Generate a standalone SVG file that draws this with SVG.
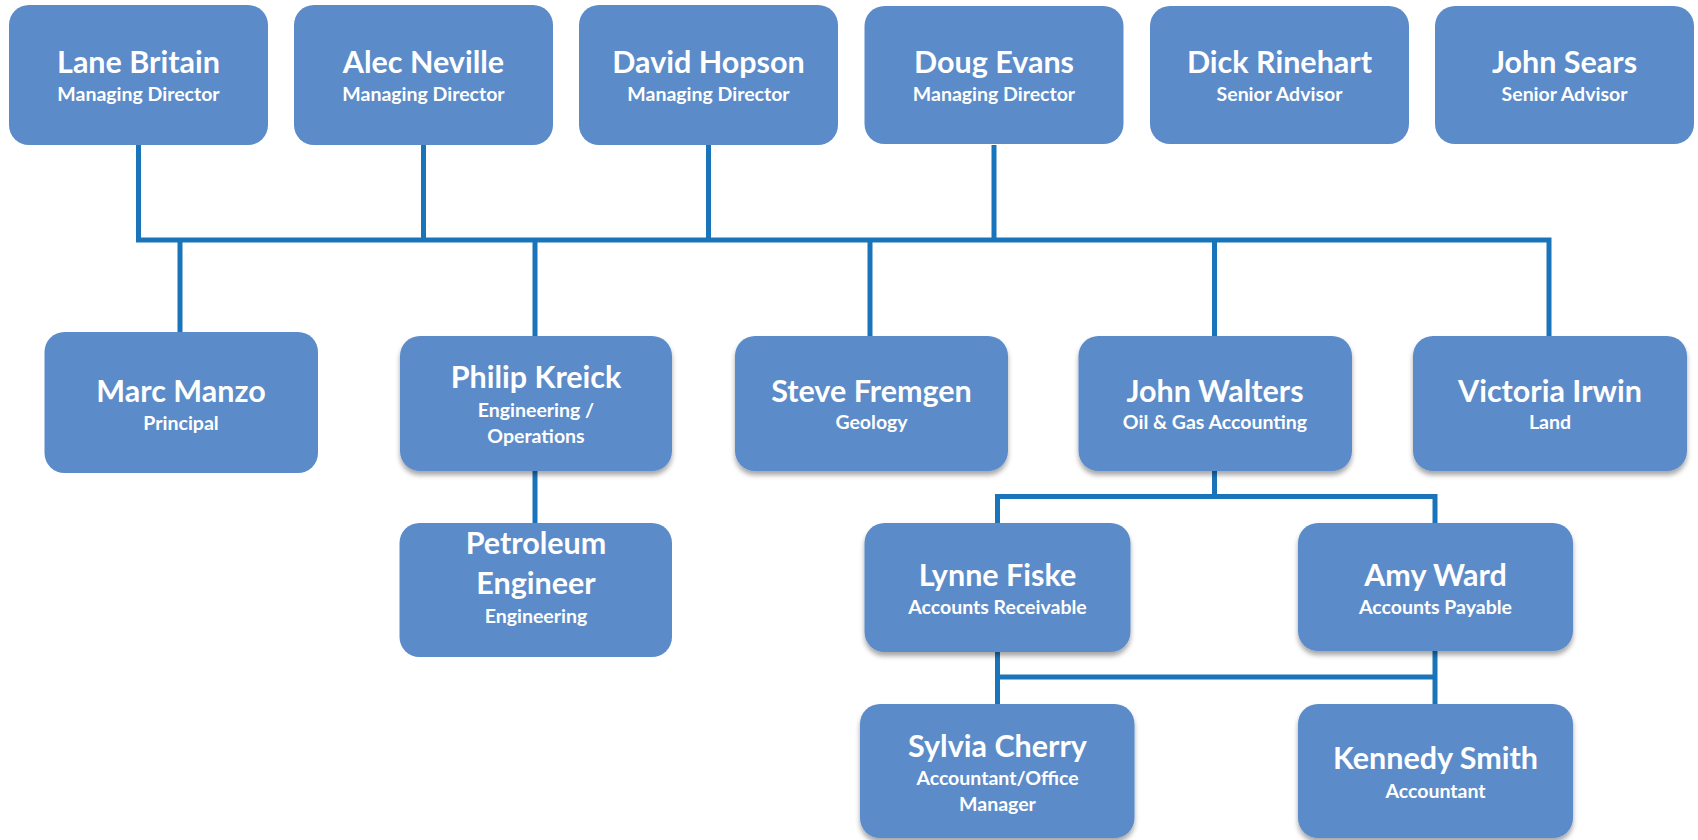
<svg xmlns="http://www.w3.org/2000/svg" width="1698" height="840" viewBox="0 0 1698 840">
<defs>
<filter id="sh" x="-10%" y="-10%" width="120%" height="130%">
<feDropShadow dx="0" dy="4" stdDeviation="2.5" flood-color="#000" flood-opacity="0.35"/>
</filter>
</defs>
<style>
.box{fill:#5B8BC9;}
.nm{font-family:Lato,"Open Sans",sans-serif;font-weight:700;font-size:30.5px;fill:#fff;text-anchor:middle;}
.sb{font-family:Lato,"Open Sans",sans-serif;font-weight:700;font-size:19.5px;fill:#fff;text-anchor:middle;}
.ln{fill:none;stroke:#1A74B9;stroke-width:5;stroke-linejoin:miter;}
</style>
<rect width="1698" height="840" fill="#fff"/>
<g id="connectors">
<path class="ln" d="M138.5,145 V240 H1549 V336"/>
<path class="ln" d="M423.5,145 V240 M708.5,145 V240 M994,145 V240"/>
<path class="ln" d="M180,240 V333 M535,240 V336 M870,240 V336 M1214.5,240 V336"/>
<path class="ln" d="M535,470 V523"/>
<path class="ln" d="M1214.5,470 V496.5 M997.5,523 V496.5 H1435 V523"/>
<path class="ln" d="M997.5,652 V704 M1435,651 V704 M997.5,677 H1435"/>
</g>
<g id="lane-britain"><rect class="box" x="9" y="5" width="259" height="140" rx="20"/><text class="nm" x="138.5" y="73">Lane Britain</text><text class="sb" x="138.5" y="101">Managing Director</text></g>
<g id="alec-neville"><rect class="box" x="294" y="5" width="259" height="140" rx="20"/><text class="nm" x="423.5" y="73">Alec Neville</text><text class="sb" x="423.5" y="101">Managing Director</text></g>
<g id="david-hopson"><rect class="box" x="579" y="5" width="259" height="140" rx="20"/><text class="nm" x="708.5" y="73">David Hopson</text><text class="sb" x="708.5" y="101">Managing Director</text></g>
<g id="doug-evans"><rect class="box" x="864.5" y="6" width="259" height="138" rx="20"/><text class="nm" x="994" y="73">Doug Evans</text><text class="sb" x="994" y="101">Managing Director</text></g>
<g id="dick-rinehart"><rect class="box" x="1150" y="6" width="259" height="138" rx="20"/><text class="nm" x="1279.5" y="73">Dick Rinehart</text><text class="sb" x="1279.5" y="101">Senior Advisor</text></g>
<g id="john-sears"><rect class="box" x="1435" y="6" width="259" height="138" rx="20"/><text class="nm" x="1564.5" y="73">John Sears</text><text class="sb" x="1564.5" y="101">Senior Advisor</text></g>
<g id="marc-manzo"><rect class="box" x="44.5" y="332" width="273.5" height="141" rx="20"/><text class="nm" x="181" y="401.5">Marc Manzo</text><text class="sb" x="181" y="430">Principal</text></g>
<g id="philip-kreick"><rect class="box" x="400" y="336" width="272" height="135" rx="20" filter="url(#sh)"/><text class="nm" x="536" y="388">Philip Kreick</text><text class="sb" x="536" y="417">Engineering /</text><text class="sb" x="536" y="443">Operations</text></g>
<g id="steve-fremgen"><rect class="box" x="735" y="336" width="273" height="135" rx="20" filter="url(#sh)"/><text class="nm" x="871.5" y="401.5">Steve Fremgen</text><text class="sb" x="871.5" y="429">Geology</text></g>
<g id="john-walters"><rect class="box" x="1078.5" y="336" width="273.5" height="135" rx="20" filter="url(#sh)"/><text class="nm" x="1215" y="401.5">John Walters</text><text class="sb" x="1215" y="429">Oil &amp; Gas Accounting</text></g>
<g id="victoria-irwin"><rect class="box" x="1413" y="336" width="274" height="135" rx="20" filter="url(#sh)"/><text class="nm" x="1550" y="401.5">Victoria Irwin</text><text class="sb" x="1550" y="429">Land</text></g>
<g id="petroleum-engineer"><rect class="box" x="399.5" y="523" width="272.5" height="134" rx="20"/><text class="nm" x="536" y="554">Petroleum</text><text class="nm" x="536" y="594">Engineer</text><text class="sb" x="536" y="623">Engineering</text></g>
<g id="lynne-fiske"><rect class="box" x="864.5" y="523" width="266" height="129" rx="20" filter="url(#sh)"/><text class="nm" x="997.5" y="586">Lynne Fiske</text><text class="sb" x="997.5" y="614">Accounts Receivable</text></g>
<g id="amy-ward"><rect class="box" x="1298" y="523" width="275" height="128" rx="20" filter="url(#sh)"/><text class="nm" x="1435.5" y="586">Amy Ward</text><text class="sb" x="1435.5" y="614">Accounts Payable</text></g>
<g id="sylvia-cherry"><rect class="box" x="860" y="704" width="274.5" height="134" rx="20" filter="url(#sh)"/><text class="nm" x="997.5" y="757">Sylvia Cherry</text><text class="sb" x="997.5" y="785">Accountant/Office</text><text class="sb" x="997.5" y="811">Manager</text></g>
<g id="kennedy-smith"><rect class="box" x="1298" y="704" width="275" height="134" rx="20" filter="url(#sh)"/><text class="nm" x="1435.5" y="769">Kennedy Smith</text><text class="sb" x="1435.5" y="798">Accountant</text></g>
</svg>
